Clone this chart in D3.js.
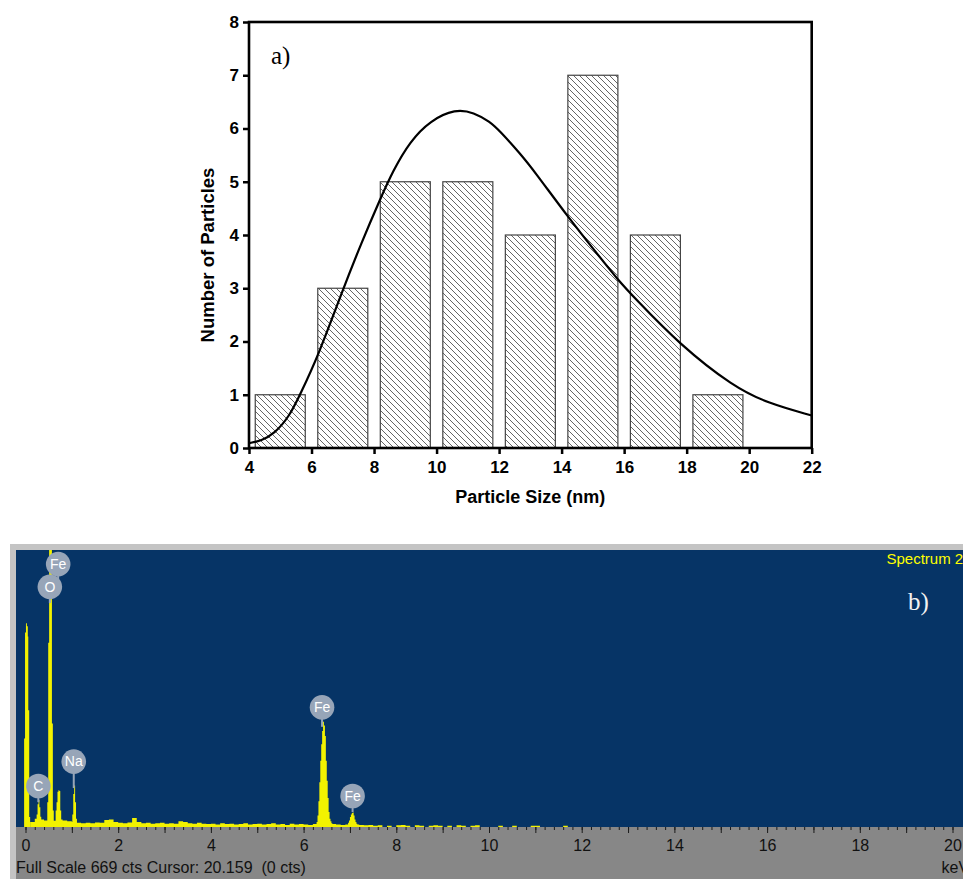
<!DOCTYPE html>
<html>
<head>
<meta charset="utf-8">
<script src="https://cdn.jsdelivr.net/npm/d3@7"></script>
<style>
  body { margin: 0; background: #fff; }
  svg { display: block; }
</style>
</head>
<body>
<div id="chart"></div>
<script>
// ---- panel a) particle size histogram ----
const binCenters = [5, 7, 9, 11, 13, 15, 17, 19];
const binCounts = [1, 3, 5, 5, 4, 7, 4, 1];
const binWidth = 1.6;
const sizeTicks = [4, 6, 8, 10, 12, 14, 16, 18, 20, 22];
const countTicks = [0, 1, 2, 3, 4, 5, 6, 7, 8];

// fitted distribution curve
const fitSize  = [4, 4.4, 4.8, 5.3, 5.63, 6.2, 7.0, 7.6, 8.2, 8.6, 9.15, 9.8, 10.6, 11.2, 11.7, 12.03, 12.67, 13.1, 14.2, 15.2, 15.8, 16.3, 17.8, 19.5, 20.6, 22];
const fitCount = [0.09, 0.14, 0.26, 0.6, 1.0, 1.71, 2.97, 3.86, 4.68, 5.2, 5.76, 6.15, 6.37, 6.3, 6.13, 5.95, 5.53, 5.22, 4.34, 3.6, 3.16, 2.84, 1.93, 1.15, 0.84, 0.61];

// ---- panel b) EDS spectrum ----
const energyTicks = [0, 2, 4, 6, 8, 10, 12, 14, 16, 18, 20];
// background counts, 0.1 keV channels starting at 0 keV
const bgCounts = [
  0, 12, 20, 18, 16, 15, 15, 18, 16, 14,
  12, 10, 9, 10, 9, 11, 10, 17, 18, 12,
  10, 9, 11, 22, 12, 9, 10, 8, 9, 10,
  8, 9, 8, 14, 12, 9, 8, 10, 8, 7,
  8, 6, 9, 7, 8, 6, 7, 9, 6, 7,
  8, 6, 7, 9, 6, 7, 5, 8, 6, 7,
  6, 5, 7, 8, 8, 8, 7, 6, 5, 6,
  7, 6, 5, 4, 5, 3, 4, 0, 3, 0,
  4, 5, 3, 0, 4, 3, 0, 3, 4, 3,
  0, 3, 0, 4, 3, 0, 3, 4, 0, 0,
  0, 0, 3, 0, 0, 3, 0, 0, 0, 3,
  3, 0, 0, 0, 0, 0, 3, 0, 0, 0
];
// peaks, [keV, counts] at 0.02 keV
const zeroPeak = [[-0.03, 214], [-0.01, 470], [0.01, 492], [0.03, 485], [0.05, 460], [0.06, 282], [0.08, 24], [0.10, 0]];
const cPeak    = [[0.24, 30], [0.26, 55], [0.28, 65], [0.30, 48], [0.32, 25], [0.34, 0]];
const oPeak    = [[0.47, 60], [0.49, 445], [0.51, 1100], [0.53, 1100], [0.55, 1100], [0.57, 250], [0.59, 40], [0.61, 0]];
const feLPeak  = [[0.65, 40], [0.67, 60], [0.69, 85], [0.71, 89], [0.73, 87], [0.75, 40], [0.77, 0]];
const naPeak   = [[1.01, 30], [1.03, 80], [1.05, 100], [1.07, 60], [1.09, 20], [1.11, 0]];
const feKaPeak = [[6.28, 12], [6.30, 28], [6.32, 62], [6.34, 108], [6.36, 160], [6.38, 200], [6.40, 232], [6.42, 254],
                  [6.44, 245], [6.46, 220], [6.48, 160], [6.50, 112], [6.52, 70], [6.54, 36], [6.56, 20], [6.58, 14], [6.60, 9], [6.62, 0]];
const feKbPeak = [[6.96, 10], [6.98, 16], [7.00, 24], [7.02, 30], [7.04, 34], [7.06, 35], [7.08, 28], [7.10, 18], [7.12, 12], [7.14, 8], [7.16, 0]];

// element markers
const peakLabels  = ["Fe", "O", "C", "Na", "Fe", "Fe"];
const labelKeV    = [0.705, 0.525, 0.277, 1.041, 6.398, 7.057];
const labelCounts = [635, 580, 99, 158, 289, 75];
const stemCounts  = [597, 541, 60, 94, 242, 36];

const W = 963, H = 879;
const svg = d3.select("#chart").append("svg")
  .attr("width", W)
  .attr("height", H);

// =========== panel a ===========
const xa = d3.scaleLinear().domain([4, 22]).range([249, 811.7]);
const ya = d3.scaleLinear().domain([0, 8]).range([448, 22]);
const sans = "'Liberation Sans', Arial, sans-serif";

const defs = svg.append("defs");
const hatch = defs.append("pattern")
  .attr("id", "hatch")
  .attr("patternUnits", "userSpaceOnUse")
  .attr("width", 6)
  .attr("height", 6);
hatch.append("path")
  .attr("d", "M0,0 L6,6 M-3,3 L3,9 M3,-3 L9,3")
  .attr("stroke", "#555")
  .attr("stroke-width", 0.9);

defs.append("clipPath").attr("id", "clipA")
  .append("rect")
  .attr("x", xa(4)).attr("y", ya(8))
  .attr("width", xa(22) - xa(4)).attr("height", ya(0) - ya(8));

const gA = svg.append("g");

// bars
gA.selectAll("rect.bar")
  .data(binCenters)
  .enter()
  .append("rect")
  .attr("class", "bar")
  .attr("x", d => xa(d - binWidth / 2))
  .attr("y", (d, i) => ya(binCounts[i]))
  .attr("width", xa(binWidth) - xa(0))
  .attr("height", (d, i) => ya(0) - ya(binCounts[i]))
  .attr("fill", "url(#hatch)")
  .attr("stroke", "#444")
  .attr("stroke-width", 1.2);

// fit curve
const fitLine = d3.line()
  .x(d => xa(d[0]))
  .y(d => ya(d[1]))
  .curve(d3.curveBasis);
gA.append("path")
  .datum(fitSize.map((s, i) => [s, fitCount[i]]))
  .attr("clip-path", "url(#clipA)")
  .attr("d", fitLine)
  .attr("fill", "none")
  .attr("stroke", "#000")
  .attr("stroke-width", 2.2);

// frame
gA.append("rect")
  .attr("x", xa(4)).attr("y", ya(8))
  .attr("width", xa(22) - xa(4)).attr("height", ya(0) - ya(8))
  .attr("fill", "none")
  .attr("stroke", "#000")
  .attr("stroke-width", 2.6);

// axes
const yAxisA = gA.append("g")
  .attr("transform", `translate(${xa(4)},0)`)
  .call(d3.axisLeft(ya).tickValues(countTicks).tickSize(6).tickPadding(4).tickSizeOuter(0));
const xAxisA = gA.append("g")
  .attr("transform", `translate(0,${ya(0)})`)
  .call(d3.axisBottom(xa).tickValues(sizeTicks).tickSize(6).tickPadding(7).tickSizeOuter(0));
[yAxisA, xAxisA].forEach(ax => {
  ax.select(".domain").remove();
  ax.selectAll("line").attr("stroke", "#000").attr("stroke-width", 2.5);
  ax.selectAll("text")
    .attr("fill", "#000")
    .style("font-family", sans)
    .style("font-size", "17px")
    .style("font-weight", "bold");
});

gA.append("text")
  .attr("x", (xa(4) + xa(22)) / 2)
  .attr("y", 503)
  .attr("text-anchor", "middle")
  .style("font-family", sans)
  .style("font-size", "18px")
  .style("font-weight", "bold")
  .text("Particle Size (nm)");

gA.append("text")
  .attr("transform", "translate(214,255) rotate(-90)")
  .attr("text-anchor", "middle")
  .style("font-family", sans)
  .style("font-size", "18.5px")
  .style("font-weight", "bold")
  .text("Number of Particles");

gA.append("text")
  .attr("x", 271)
  .attr("y", 63.5)
  .style("font-family", "'Liberation Serif', 'DejaVu Serif', serif")
  .style("font-size", "25px")
  .text("a)");

// =========== panel b ===========
const xb = d3.scaleLinear().domain([0, 20]).range([25.5, 952.5]);
const yb = d3.scaleLinear().domain([0, 669]).range([827, 550]);

const gB = svg.append("g");

gB.append("rect")
  .attr("x", 10).attr("y", 544)
  .attr("width", W - 10).attr("height", H - 544)
  .attr("fill", "#c4c4c4");
gB.append("rect")
  .attr("x", 16).attr("y", 550)
  .attr("width", W - 16).attr("height", 277)
  .attr("fill", "#063466");
gB.append("rect")
  .attr("x", 16).attr("y", 827)
  .attr("width", W - 16).attr("height", H - 827)
  .attr("fill", "#878787");

defs.append("clipPath").attr("id", "clipB")
  .append("rect")
  .attr("x", 16).attr("y", 550)
  .attr("width", W - 16).attr("height", 277);

const spec = gB.append("g").attr("clip-path", "url(#clipB)");
const stepArea = d3.area()
  .x(d => xb(d[0]))
  .y0(yb(0))
  .y1(d => yb(d[1]))
  .curve(d3.curveStepAfter);

const bgSeries = bgCounts.map((c, i) => [i * 0.1, c]).concat([[bgCounts.length * 0.1, 0]]);
const allPeaks = [bgSeries, zeroPeak, cPeak, oPeak, feLPeak, naPeak, feKaPeak, feKbPeak];
spec.selectAll("path.peak")
  .data(allPeaks)
  .enter()
  .append("path")
  .attr("class", "peak")
  .attr("d", stepArea)
  .attr("fill", "#f2f200");

// energy axis
const minorAxis = gB.append("g")
  .attr("transform", `translate(0,${yb(0)})`)
  .call(d3.axisBottom(xb).tickValues(d3.range(0, 20.01, 0.2)).tickSize(3).tickFormat(""));
const majorAxis = gB.append("g")
  .attr("transform", `translate(0,${yb(0)})`)
  .call(d3.axisBottom(xb).tickValues(d3.range(0, 21, 1)).tickSize(6).tickPadding(6.5)
    .tickFormat(d => energyTicks.includes(d) ? d : ""));
[minorAxis, majorAxis].forEach(ax => {
  ax.select(".domain").remove();
  ax.selectAll("line").attr("stroke", "#1a1a1a").attr("stroke-width", 1);
  ax.selectAll("text")
    .attr("fill", "#111")
    .style("font-family", sans)
    .style("font-size", "16px");
});

gB.append("text")
  .attr("x", 16)
  .attr("y", 873)
  .attr("fill", "#111")
  .style("font-family", sans)
  .style("font-size", "16px")
  .style("white-space", "pre")
  .text("Full Scale 669 cts Cursor: 20.159  (0 cts)");

gB.append("text")
  .attr("x", 941.5)
  .attr("y", 873)
  .attr("fill", "#111")
  .style("font-family", sans)
  .style("font-size", "16px")
  .text("keV");

gB.append("text")
  .attr("x", 886.5)
  .attr("y", 564)
  .attr("fill", "#ffff00")
  .style("font-family", sans)
  .style("font-size", "15px")
  .text("Spectrum 2");

gB.append("text")
  .attr("x", 908)
  .attr("y", 610)
  .attr("fill", "#f2f2f2")
  .style("font-family", "'Liberation Serif', 'DejaVu Serif', serif")
  .style("font-size", "25px")
  .text("b)");

// peak markers
const markers = gB.selectAll("g.marker")
  .data(peakLabels)
  .enter()
  .append("g")
  .attr("class", "marker")
  .attr("transform", (d, i) => `translate(${xb(labelKeV[i])},0)`);
markers.append("line")
  .attr("x1", 0).attr("x2", 0)
  .attr("y1", (d, i) => yb(labelCounts[i]))
  .attr("y2", (d, i) => yb(stemCounts[i]))
  .attr("stroke", "#97a5b8")
  .attr("stroke-width", 2);
markers.append("circle")
  .attr("cy", (d, i) => yb(labelCounts[i]))
  .attr("r", 12.3)
  .attr("fill", "#97a5b8");
markers.append("text")
  .attr("y", (d, i) => yb(labelCounts[i]))
  .attr("dy", "0.35em")
  .attr("text-anchor", "middle")
  .attr("fill", "#fff")
  .style("font-family", sans)
  .style("font-size", "14px")
  .text(d => d);
</script>
</body>
</html>
